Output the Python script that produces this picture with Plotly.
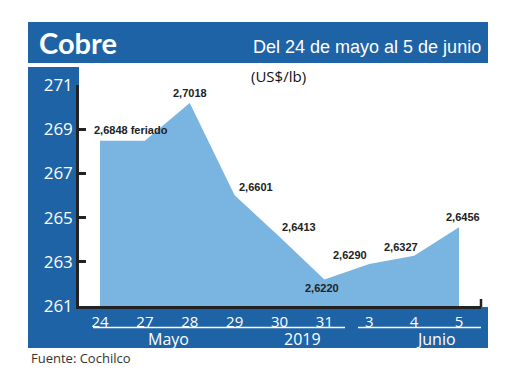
import plotly.graph_objects as go

# ---- data ----
days = ["24", "27", "28", "29", "30", "31", "3", "4", "5"]
prices = [2.6848, 2.6848, 2.7018, 2.6601, 2.6413, 2.6220, 2.6290, 2.6327, 2.6456]  # US$/lb
label_suffix = [" feriado", None, "", "", "", "", "", "", ""]  # None = no label
y_ticks = [261, 263, 265, 267, 269, 271]
groups = ["Mayo", "2019", "Junio"]

W, H = 520, 390
BLUE = "#1e63a6"
FILL = "#7ab4e1"
SANS = "Liberation Sans, Arial, sans-serif"
HUMAN = "Open Sans, Lato, sans-serif"

def fx(px):
    return px / W

def fy(py):
    return 1 - py / H

# plot area pixels
PL, PR, PT, PB = 79, 481, 85, 306
X0PX, DX = 100, 44.875

idx = list(range(len(days)))
yvals = [p * 100 for p in prices]

fig = go.Figure()
fig.add_trace(go.Scatter(
    x=idx, y=yvals, mode="lines", fill="tozeroy",
    fillcolor=FILL, line=dict(width=0, color=FILL), hoverinfo="skip",
))

# label placement (pixel shifts)
shifts = [(-8, 11, "left"), None, (0, 10, "center"), (2, 8, "left"), (0, 10, "left"),
          (-2, -9, "center"), (-19, 9, "center"), (-13, 9, "center"), (4, 10, "center")]
ann = []
for i, p, yv, suf, sh in zip(idx, prices, yvals, label_suffix, shifts):
    if suf is None or sh is None:
        continue
    txt = f"{p:.4f}".replace(".", ",") + suf
    ann.append(dict(x=i, y=yv, xref="x", yref="y", text=txt, showarrow=False,
                    xanchor=sh[2], yanchor="middle", xshift=sh[0], yshift=sh[1],
                    font=dict(family=SANS, size=11, color="#222222", weight="bold")))

# header texts
ann.append(dict(x=fx(37), y=fy(42), xref="paper", yref="paper", text="<b>Cobre</b>",
                showarrow=False, xanchor="left", yanchor="middle",
                font=dict(family="Lato, Open Sans, sans-serif", size=29, color="white")))
ann.append(dict(x=fx(483), y=fy(47), xref="paper", yref="paper",
                text="Del 24 de mayo al 5 de junio", showarrow=False,
                xanchor="right", yanchor="middle",
                font=dict(family=SANS, size=18, color="white")))
ann.append(dict(x=fx(278), y=fy(76), xref="paper", yref="paper", text="(US$/lb)",
                showarrow=False, xanchor="center", yanchor="middle",
                font=dict(family=HUMAN, size=15, color="#111111")))
ann.append(dict(x=fx(29), y=fy(358), xref="paper", yref="paper", text="Fuente: Cochilco",
                showarrow=False, xanchor="left", yanchor="middle",
                font=dict(family=HUMAN, size=13, color="#333333")))
for g, cx in zip(groups, [168, 302, 436]):
    ann.append(dict(x=fx(cx), y=fy(339), xref="paper", yref="paper", text=g,
                    showarrow=False, xanchor="center", yanchor="middle",
                    font=dict(family=HUMAN, size=16, color="white")))

shapes = [
    dict(type="rect", xref="paper", yref="paper", x0=fx(28), x1=fx(488), y0=fy(22), y1=fy(63),
         fillcolor=BLUE, line=dict(width=0), layer="below"),
    dict(type="rect", xref="paper", yref="paper", x0=fx(28), x1=fx(79), y0=fy(67), y1=fy(348),
         fillcolor=BLUE, line=dict(width=0), layer="below"),
    dict(type="rect", xref="paper", yref="paper", x0=fx(28), x1=fx(488), y0=fy(307), y1=fy(348),
         fillcolor=BLUE, line=dict(width=0), layer="below"),
    dict(type="line", xref="paper", yref="paper", x0=fx(93), x1=fx(345), y0=fy(327.5), y1=fy(327.5),
         line=dict(color="white", width=1.5)),
    dict(type="line", xref="paper", yref="paper", x0=fx(358), x1=fx(481), y0=fy(327.5), y1=fy(327.5),
         line=dict(color="white", width=1.5)),
    dict(type="line", xref="paper", yref="paper", x0=fx(481), x1=fx(481), y0=fy(299), y1=fy(307),
         line=dict(color="#222222", width=2.5)),
    dict(type="line", xref="paper", yref="paper", x0=fx(347), x1=fx(347), y0=fy(306), y1=fy(309),
         line=dict(color="#222222", width=2)),
]

fig.update_layout(
    width=W, height=H,
    margin=dict(l=0, r=0, t=0, b=0, autoexpand=False),
    paper_bgcolor="white", plot_bgcolor="rgba(0,0,0,0)",
    showlegend=False,
    annotations=ann, shapes=shapes,
    xaxis=dict(
        domain=[fx(PL), fx(PR)],
        range=[(PL - X0PX) / DX, (PR - X0PX) / DX],
        tickvals=idx, ticktext=days,
        showline=True, linecolor="#222222", linewidth=2.5,
        showgrid=False, zeroline=False, ticks="",
        tickfont=dict(family=HUMAN, size=15, color="white"),
        fixedrange=True,
    ),
    yaxis=dict(
        domain=[fy(PB), fy(PT)], range=[261, 271],
        tickvals=y_ticks, ticktext=[str(t) for t in y_ticks],
        showline=True, linecolor="#222222", linewidth=2.5,
        showgrid=False, zeroline=False,
        ticks="inside", ticklen=7, tickwidth=2.5, tickcolor="#222222",
        tickfont=dict(family=HUMAN, size=17, color="white"),
        fixedrange=True,
    ),
)

fig.write_html("out.html", config={"displayModeBar": False},
               post_script="document.body.style.margin='0';")
